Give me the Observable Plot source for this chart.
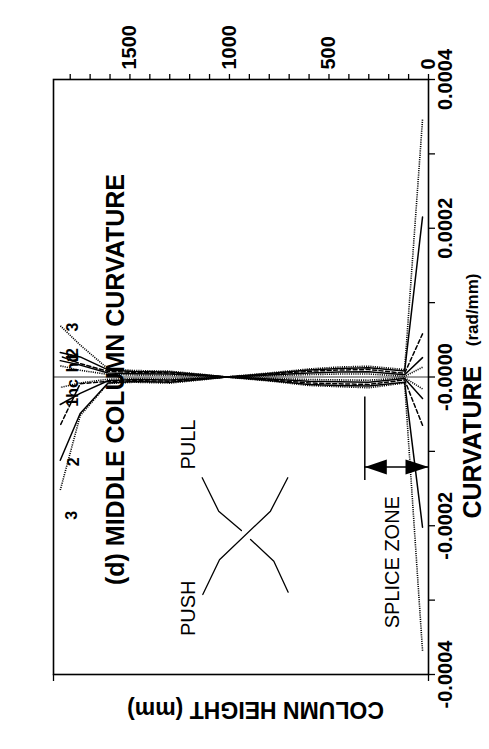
<!DOCTYPE html>
<html>
<head>
<meta charset="utf-8">
<script src="https://cdn.jsdelivr.net/npm/d3@7"></script>
<script src="https://cdn.jsdelivr.net/npm/@observablehq/plot@0.6"></script>
<style>
  html, body { margin: 0; padding: 0; background: #fff; }
  svg { display: block; }
</style>
</head>
<body>
<div id="chart"></div>
<script>
// ---- data (column height in mm, curvature in rad/mm) ----
const heights = [30, 120, 300, 450, 600, 800, 1000, 1130, 1300, 1480, 1610, 1750, 1850];

const seriesNames  = ["P3", "N3", "P2", "N2", "Phc", "Nhc", "P1", "N1", "P0", "N0"];
const seriesStyles = ["dotted", "dotted", "solid", "solid", "dashed", "dashed", "solid", "solid", "dotted", "dotted"];

const curvP3  = [346e-6, 10e-6, 14.5e-6, 13.4e-6, 10.8e-6, 5.4e-6, 0.5e-6, -3.6e-6, -8.2e-6, -7.0e-6, -8.7e-6, -52e-6, -152e-6];
const curvN3  = [-368e-6, -8e-6, -14.5e-6, -13.0e-6, -11.4e-6, -5.4e-6, -0.5e-6, 3.4e-6, 7.8e-6, 8.7e-6, 11e-6, 43e-6, 69e-6];
const curvP2  = [215e-6, 8e-6, 12.5e-6, 11.5e-6, 9.5e-6, 4.6e-6, 0.3e-6, -3.0e-6, -7.0e-6, -6.0e-6, -8.0e-6, -49e-6, -112e-6];
const curvN2  = [-202e-6, -7e-6, -12e-6, -11.3e-6, -10e-6, -4.6e-6, -0.3e-6, 2.9e-6, 6.6e-6, 7.4e-6, 9.5e-6, 27e-6, 33e-6];
const curvPhc = [58e-6, 5e-6, 10e-6, 9.4e-6, 7.6e-6, 3.8e-6, 0.2e-6, -2.4e-6, -5.6e-6, -5.0e-6, -6.0e-6, -9e-6, -65e-6];
const curvNhc = [-65e-6, -4e-6, -10e-6, -9.2e-6, -8e-6, -3.8e-6, -0.2e-6, 2.3e-6, 5.5e-6, 6.1e-6, 7.5e-6, 18e-6, 28e-6];
const curvP1  = [26e-6, 3e-6, 7e-6, 6.7e-6, 5.4e-6, 2.7e-6, 0.1e-6, -1.7e-6, -4.0e-6, -3.5e-6, -5.0e-6, -22e-6, -37e-6];
const curvN1  = [-29e-6, -2e-6, -7e-6, -6.5e-6, -5.7e-6, -2.7e-6, -0.1e-6, 1.7e-6, 3.9e-6, 4.4e-6, 5.5e-6, 16e-6, 22e-6];
const curvP0  = [13e-6, 1e-6, 4e-6, 4e-6, 3.2e-6, 1.6e-6, 0, -1e-6, -2.4e-6, -2.1e-6, -3e-6, -8e-6, -14e-6];
const curvN0  = [-16e-6, -1e-6, -4.3e-6, -3.9e-6, -3.4e-6, -1.6e-6, 0, 1e-6, 2.3e-6, 2.6e-6, 3.5e-6, 9e-6, 15e-6];

// end labels of the curves
const lineLabelText = ["3", "2", "1", "hc", "hc", "1", "2", "3"];
const lineLabelH    = [1785, 1785, 1785, 1785, 1785, 1785, 1780, 1790];
const lineLabelC    = [67e-6, 33e-6, 26e-6, 19e-6, -15.5e-6, -34e-6, -114e-6, -186e-6];

// push / pull schematic (drawn in data space)
const schematicSeg = [0, 0, 0, 1, 1, 1, 2, 2, 2, 2];
const schematicH   = [1137, 1054, 940, 894, 777, 705, 1134, 1050, 794, 707];
const schematicC   = [-135.5e-6, -180.4e-6, -206.4e-6, -218.5e-6, -247.7e-6, -289.3e-6, -292.4e-6, -245.8e-6, -180.4e-6, -135.5e-6];

// splice zone
const spliceH = [0, 320];
const spliceMarkerC = [-27e-6, -139e-6];
const spliceArrowC = -121e-6;

// annotation texts
const annoText = ["PULL", "PUSH", "SPLICE ZONE"];
const annoH    = [1204, 1204, 182];
const annoC    = [-90.8e-6, -311e-6, -249e-6];

// ticks
const heightTicks = [0, 100, 200, 300, 400, 500, 600, 700, 800, 900, 1000, 1100, 1200, 1300, 1400, 1500, 1600, 1700, 1800];
const heightLabelValues = [0, 500, 1000, 1500];
const heightLabelText = ["0", "500", "1000", "1500"];
const curvTicks = [-0.0004, -0.0003, -0.0002, -0.0001, 0, 0.0001, 0.0002, 0.0003, 0.0004];
const curvLabelValues = [-0.0004, -0.0002, 0, 0.0002, 0.0004];
const curvLabelText = ["-0.0004", "-0.0002", "-0.0000", "0.0002", "0.0004"];
const heightDomain = [0, 1884];
const curvDomain = [-0.0004, 0.0004];

// ---- build tables ----
const seriesValues = [curvP3, curvN3, curvP2, curvN2, curvPhc, curvNhc, curvP1, curvN1, curvP0, curvN0];
const rows = seriesNames.flatMap((name, s) =>
  heights.map((h, i) => ({series: name, style: seriesStyles[s], h, c: seriesValues[s][i]}))
);
const byStyle = (st) => rows.filter((d) => d.style === st);
const lineLabels = lineLabelText.map((t, i) => ({t, h: lineLabelH[i], c: lineLabelC[i]}));
const schematic = schematicSeg.map((s, i) => ({s, h: schematicH[i], c: schematicC[i]}));
const annos = annoText.map((t, i) => ({t, h: annoH[i], c: annoC[i]}));

const headLeft = {draw(ctx) { ctx.moveTo(0, 0); ctx.lineTo(22, -7.5); ctx.lineTo(22, 7.5); ctx.closePath(); }};
const headRight = {draw(ctx) { ctx.moveTo(0, 0); ctx.lineTo(-23, -7.5); ctx.lineTo(-23, 7.5); ctx.closePath(); }};

const FONT = "'Liberation Sans', Arial, Helvetica, sans-serif";
const noText = () => "";

const chart = Plot.plot({
  width: 489,
  height: 749,
  marginLeft: 53,
  marginRight: 61,
  marginTop: 79,
  marginBottom: 75,
  x: {domain: heightDomain, reverse: true},
  y: {domain: curvDomain},
  style: {fontFamily: FONT, background: "white", color: "black", overflow: "visible"},
  marks: [
    Plot.ruleY([0], {stroke: "black", strokeWidth: 0.8}),
    Plot.line(byStyle("solid"), {x: "h", y: "c", z: "series", stroke: "black", strokeWidth: 1.5}),
    Plot.line(byStyle("dashed"), {x: "h", y: "c", z: "series", stroke: "black", strokeWidth: 1.5, strokeDasharray: "4,2.5"}),
    Plot.line(byStyle("dotted"), {x: "h", y: "c", z: "series", stroke: "black", strokeWidth: 1.6, strokeDasharray: "1.1,1.1", strokeLinecap: "butt"}),
    Plot.text(lineLabels, {x: "h", y: "c", text: "t", rotate: -90, fontSize: 16, fontWeight: "bold", textAnchor: "middle", lineAnchor: "middle"}),

    // push/pull schematic
    Plot.line(schematic, {x: "h", y: "c", z: "s", stroke: "black", strokeWidth: 1.3}),
    Plot.text(annos, {x: "h", y: "c", text: "t", rotate: -90, fontSize: 20, textAnchor: "middle", lineAnchor: "middle"}),

    // splice zone marker and double arrow
    Plot.ruleX([spliceH[1]], {y1: spliceMarkerC[0], y2: spliceMarkerC[1], stroke: "black", strokeWidth: 1.5}),
    Plot.ruleY([spliceArrowC], {x1: spliceH[0], x2: spliceH[1], stroke: "black", strokeWidth: 1.5}),
    Plot.dot([{h: spliceH[1], c: spliceArrowC}], {x: "h", y: "c", symbol: headLeft, fill: "black", stroke: "none"}),
    Plot.dot([{h: spliceH[0], c: spliceArrowC}], {x: "h", y: "c", symbol: headRight, fill: "black", stroke: "none"}),

    // frame and ticks
    Plot.frame({stroke: "black", strokeWidth: 1.6}),
    Plot.axisX(heightTicks, {anchor: "top", tickSize: 6, tickFormat: noText, label: null, strokeWidth: 1.3}),
    Plot.axisX(heightDomain, {anchor: "bottom", tickSize: 7, tickFormat: noText, label: null, strokeWidth: 1.3}),
    Plot.axisY(curvTicks, {anchor: "right", tickSize: 6, tickFormat: noText, label: null, strokeWidth: 1.3}),

    // tick labels
    Plot.text(heightLabelValues, {x: (d) => d, text: (d, i) => heightLabelText[i], frameAnchor: "top", dy: -10, rotate: -90, textAnchor: "start", lineAnchor: "middle", fontSize: 20, fontWeight: "bold"}),
    Plot.text(curvLabelValues, {y: (d) => d, text: (d, i) => curvLabelText[i], frameAnchor: "right", dx: 17, rotate: -90, textAnchor: "middle", lineAnchor: "middle", fontSize: 20, fontWeight: "bold"}),

    // axis titles and chart title
    Plot.text(["CURVATURE"], {frameAnchor: "bottom-right", dx: 44.5, dy: -156, rotate: -90, textAnchor: "start", lineAnchor: "middle", fontSize: 25, fontWeight: "bold"}),
    Plot.text(["(rad/mm)"], {frameAnchor: "top-right", dx: 44.5, dy: 194, rotate: -90, textAnchor: "end", lineAnchor: "middle", fontSize: 17, fontWeight: "bold"}),
    Plot.text(["COLUMN HEIGHT (mm)"], {frameAnchor: "bottom", dx: 14.5, dy: 35, rotate: 180, textAnchor: "middle", lineAnchor: "middle", fontSize: 23, fontWeight: "bold"}),
    Plot.text(["(d) MIDDLE COLUMN CURVATURE"], {frameAnchor: "left", dx: 62, dy: 2.5, rotate: -90, textAnchor: "middle", lineAnchor: "middle", fontSize: 25, fontWeight: "bold"})
  ]
});

document.getElementById("chart").append(chart);
</script>
</body>
</html>
